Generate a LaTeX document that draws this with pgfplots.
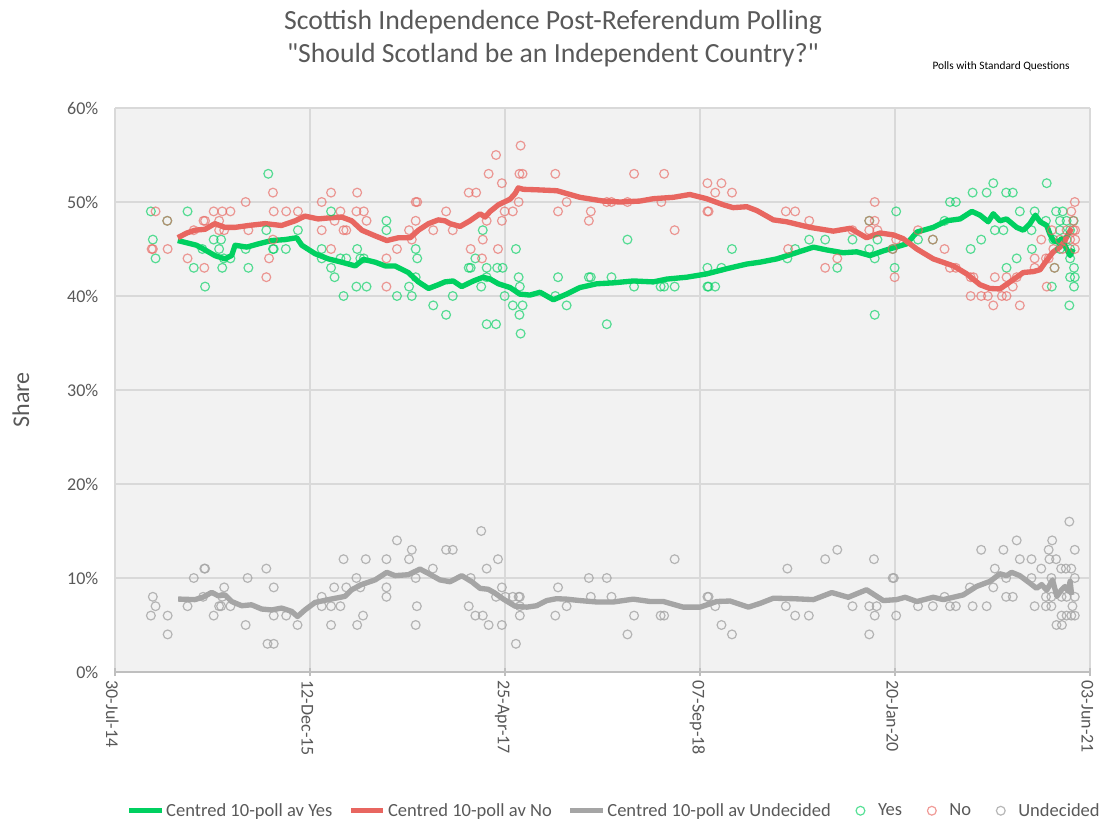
\documentclass[border=0pt]{standalone}
\usepackage{fontspec}
\setmainfont{Carlito}
\newfontfamily\plainfont{Carlito}
\usepackage{pgfplots}
\pgfplotsset{compat=1.18}
\definecolor{txt}{HTML}{595959}
\definecolor{yesc}{RGB}{0,208,96}
\definecolor{noc}{RGB}{232,102,96}
\definecolor{undc}{RGB}{165,165,165}
\definecolor{bgc}{HTML}{F2F2F2}
\definecolor{gridc}{HTML}{D9D9D9}
\definecolor{axc}{HTML}{BFBFBF}
\pgfplotsset{
  markleg/.style={legend image code/.code={\path[draw=none,fill=none] (0cm,0cm) (0.77cm,0cm); \draw[##1] plot coordinates {(0.36cm,0cm)};}},
}
\begin{document}
\begin{tikzpicture}
\path[use as bounding box] (0,0) rectangle (830.25pt,618.75pt);
\node[text=txt, font=\plainfont\fontsize{20.8}{24}\selectfont] at (414.75pt,602.25pt) {Scottish Independence Post-Referendum Polling};
\node[text=txt, font=\plainfont\fontsize{20.8}{24}\selectfont] at (414.75pt,577.5pt) {"Should Scotland be an Independent Country?"};
\node[text=black, font=\fontsize{8.5}{10}\selectfont] at (750.75pt,569.25pt) {Polls with Standard Questions};
\node[text=txt, rotate=90, font=\fontsize{18}{21}\selectfont] at (15.75pt,318.75pt) {Share};
\begin{axis}[
  at={(86.25pt,114.75pt)}, anchor=south west,
  width=731.25pt, height=423pt, scale only axis,
  xmin=0, xmax=2500, ymin=0, ymax=60,
  axis background/.style={fill=bgc},
  axis line style={draw=none},
  grid=major, major grid style={draw=gridc, line width=0.8pt},
  xtick={0,500,1000,1500,2000,2500},
  xticklabels={30-Jul-14,12-Dec-15,25-Apr-17,07-Sep-18,20-Jan-20,03-Jun-21},
  ytick={0,10,20,30,40,50,60},
  yticklabels={0\%,10\%,20\%,30\%,40\%,50\%,60\%},
  xtick pos=left, ytick style={draw=none},
  xtick style={draw=axc, line width=1.5pt},
  tick align=center, major tick length=6pt,
  xticklabel style={rotate=-90, anchor=west, font=\fontsize{13.5}{16}\selectfont, text=txt, yshift=-2pt},
  yticklabel style={font=\fontsize{13.5}{16}\selectfont, text=txt, xshift=-6pt},
  legend style={at={(0.512,-0.246)}, anchor=center, draw=none, fill=none,
    font=\fontsize{13.9}{16}\selectfont, text=txt, legend columns=-1,
    nodes={inner xsep=1.5pt, inner ysep=1pt},
    /tikz/every even column/.append style={column sep=10.5pt}},
  legend image code/.code={\draw[mark repeat=2,mark phase=2,#1] plot coordinates {(0cm,0cm) (0.42cm,0cm) (0.85cm,0cm)};},
  clip=false,
]
% centred averages
\addplot[yesc, line width=4pt, line join=round] coordinates {
(161,45.9)(180,45.7)(209,45.4)(231,44.9)(256,44.3)(282,43.95)(299,44.3)(308,45.4)(338,45.2)(368,45.55)(402,45.9)(436,46)(466,46.2)(479,45.4)(513,44.5)(547,43.95)(581,43.6)(616,43.2)(637,43.9)(667,43.6)(693,43.2)(718,43.2)(752,42.5)(778,41.5)(804,40.8)(829,41.2)(846,41.5)
(867,41.6)(889,41)(919,41.6)(944,42)(962,41.8)(983,41.3)(1013,40.9)(1038,40.2)(1064,40.1)(1090,40.4)(1124,39.6)(1158,40.2)(1192,40.9)(1235,41.3)(1278,41.4)(1329,41.6)(1380,41.5)(1415,41.8)(1466,42)(1517,42.35)(1568,42.9)(1620,43.4)(1654,43.6)
(1697,43.95)(1739,44.5)(1791,45.2)(1825,44.9)(1867,44.6)(1902,44.7)(1936,44.3)(1970,44.8)(1994,45.1)(2030,45.55)(2056,46.8)(2098,47.3)(2132,48)(2167,48.2)(2197,49)(2218,48.6)(2239,47.9)(2252,48.75)(2269,48)(2286,48.2)(2312,47.3)(2329,47)(2346,47.7)(2360,48.6)(2372,47.9)(2389,47.5)(2397,46.6)(2406,45.9)(2419,45.7)(2427,46.1)(2440,45)(2449,44.3)(2457,45)
};
\addlegendentry{Centred 10-poll av Yes}
\addplot[noc, line width=4pt, line join=round] coordinates {
(161,46.2)(184,46.7)(205,47)(231,47.1)(256,47.7)(282,47.3)(308,47.3)(342,47.5)(385,47.7)(427,47.5)(462,48)(487,48.5)(521,48.2)(547,48.3)(581,48.4)(607,48)(633,47)(667,46.4)(697,45.9)(727,46.2)(757,46.2)(778,47)(804,47.7)(829,48.1)(846,48)
(859,47.7)(885,47.4)(910,48)(936,48.75)(949,48.4)(962,49)(983,49.7)(1013,50.3)(1026,50.9)(1034,51.5)(1047,51.35)(1081,51.3)(1133,51.2)(1192,50.5)(1252,50.1)(1295,50)(1346,50.1)(1380,50.35)(1432,50.5)(1474,50.8)(1517,50.35)(1560,49.7)(1585,49.4)(1620,49.5)(1645,49.1)
(1654,48.9)(1688,48.1)(1722,47.9)(1782,47.3)(1842,46.9)(1885,47.2)(1927,46.2)(1962,46.7)(1996,46.5)(2021,46.1)(2056,45)(2098,43.95)(2150,43.2)(2184,42.35)(2218,41.2)(2243,40.8)(2269,40.75)(2295,41.5)(2329,42.5)(2355,42.6)(2372,42.8)(2389,43.8)(2406,44.7)(2423,45.2)(2436,45.9)(2444,46.6)(2453,47.2)
};
\addlegendentry{Centred 10-poll av No}
\addplot[undc, line width=4pt, line join=round] coordinates {
(162,7.76)(205,7.7)(226,7.97)(248,8.47)(265,8.1)(282,8.2)(299,7.5)(325,7.05)(350,7.15)(376,6.7)(402,6.6)(427,6.8)(453,6.45)(468,5.9)(487,6.6)(513,7.4)(547,7.7)(590,8.05)(607,8.75)(632,9.3)(667,9.8)(697,10.6)(718,10.25)(752,10.35)(782,10.95)(803,10.5)(833,9.8)
(859,9.6)(889,10.25)(915,9.6)(936,8.9)(957,8.8)(974,8.4)(996,7.75)(1026,7)(1056,6.9)(1081,7.05)(1107,7.6)(1132,7.8)(1158,7.75)(1192,7.6)(1235,7.45)(1278,7.45)(1329,7.75)(1372,7.5)(1406,7.5)(1457,6.9)(1500,6.9)(1543,7.5)(1577,7.55)(1624,6.9)(1654,7.3)
(1688,7.85)(1739,7.8)(1791,7.7)(1838,8.45)(1880,7.95)(1927,8.75)(1970,7.6)(2004,7.7)(2026,7.95)(2056,7.5)(2098,7.95)(2124,7.7)(2175,8.2)(2209,9.1)(2244,9.65)(2269,10.45)(2286,10.25)(2299,10.6)(2320,10.25)(2346,9.45)(2363,8.9)(2376,9.3)(2389,8.7)(2404,9.8)(2415,8.05)(2427,8.75)(2436,9.1)(2444,8.6)(2449,9.65)(2453,8.2)
};
\addlegendentry{Centred 10-poll av Undecided}
% poll points
\addplot[only marks, markleg, mark=o, mark size=3.3pt, mark options={draw=yesc, line width=0.9pt, draw opacity=0.65}] coordinates {
(92,49)(134,48)(186,49)(393,53)(554,49)(97,46)(104,44)(231,41)(202,43)(253,46)(272,46)(267,45)(224,45)(275,43)(279,44)(296,44)(342,43)(335,45)(388,47)(405,45)(407,45)(438,45)(469,47)(530,45)(530,44)(554,43)(563,42)(578,44)(593,44)(621,45)(629,44)(638,44)(619,41)(645,41)(696,48)(696,47)(723,40)(754,41)(761,40)(771,45)(775,44)(771,42)(816,39)(586,40)
(849,38)(866,40)(943,47)(924,44)(907,43)(912,43)(953,43)(980,43)(994,43)(939,41)(953,42)(953,37)(977,37)(999,40)(1020,39)(1028,45)(1035,42)(1038,41)(1045,39)(1037,38)(1040,36)(1129,40)(1136,42)(1158,39)(1215,42)(1220,42)(1273,42)(1314,46)(1261,37)(1331,41)(1399,41)(1408,41)(1435,41)(1519,43)(1555,43)(1519,41)(1522,41)(1539,41)(1582,45)
(1724,44)(1744,45)(1780,46)(1821,46)(1852,43)(1891,46)(1934,45)(1934,48)(1948,44)(1955,46)(1948,38)(1999,43)(2003,49)(1994,45)(2059,46)(2097,46)(2127,48)(2141,50)(2156,50)(2194,45)(2199,51)(2221,46)(2235,51)(2252,52)(2256,47)(2278,47)(2285,51)(2302,51)(2286,43)(2312,44)(2320,49)(2350,47)(2351,45)(2358,49)(2389,52)(2387,48)(2402,41)(2409,43)(2413,49)(2430,49)(2423,48)(2440,48)(2458,48)(2423,47)(2449,47)(2406,46)(2440,46)(2423,45)(2449,45)(2449,44)(2459,43)(2449,42)(2461,42)(2459,41)(2447,39)
};
\addlegendentry{Yes}
\addplot[only marks, markleg, mark=o, mark size=3.3pt, mark options={draw=noc, line width=0.9pt, draw opacity=0.65}] coordinates {
(104,49)(94,45)(97,45)(134,48)(135,45)(186,44)(229,43)(202,47)(227,48)(231,48)(253,49)(275,49)(296,49)(267,48)(267,47)(280,47)(335,50)(342,47)(405,51)(407,49)(439,49)(469,49)(405,46)(395,44)(388,42)(530,50)(554,51)(530,47)(563,48)(578,49)(586,47)(593,47)(621,51)(619,49)(638,49)(645,48)(554,45)(696,44)(696,41)(723,45)(771,50)(775,50)(771,48)(754,47)(816,47)(761,46)
(849,49)(866,47)(907,51)(926,51)(958,53)(977,55)(992,52)(1040,56)(1037,53)(1045,53)(1035,50)(999,49)(1020,49)(992,48)(953,48)(943,46)(941,44)(912,45)(982,45)(1129,53)(1136,49)(1158,50)(1215,48)(1220,49)(1261,50)(1273,50)(1314,50)(1331,53)(1408,53)(1401,50)(1435,47)(1519,52)(1555,52)(1539,51)(1582,51)(1519,49)(1522,49)
(1720,49)(1744,49)(1780,48)(1726,45)(1821,43)(1852,44)(1891,47)(1934,48)(1948,48)(1934,47)(1955,47)(1948,50)(1994,45)(2003,46)(1999,42)(2059,47)(2097,46)(2127,45)(2141,43)(2156,43)(2194,42)(2201,42)(2194,40)(2221,40)(2238,40)(2252,39)(2256,42)(2274,40)(2286,40)(2286,42)(2302,41)(2312,42)(2320,39)(2358,44)(2358,43)(2375,46)(2387,44)(2394,44)(2389,41)(2402,47)(2406,45)(2409,43)(2423,46)(2430,45)(2440,47)(2457,47)(2462,47)(2452,49)(2457,48)(2461,50)(2449,46)(2462,46)(2461,45)
};
\addlegendentry{No}
\addplot[only marks, markleg, mark=o, mark size=3.3pt, mark options={draw=undc, line width=0.9pt, draw opacity=0.8}] coordinates {
(97,8)(104,7)(92,6)(135,6)(135,4)(186,7)(202,10)(229,11)(231,11)(226,8)(253,6)(267,7)(272,7)(280,9)(275,8)(296,7)(335,5)(340,10)(388,11)(407,9)(407,6)(391,3)(407,3)(439,6)(468,5)(530,8)(530,7)(554,7)(554,5)(562,9)(578,7)(586,12)(593,9)(619,10)(621,5)(636,6)(629,9)(643,12)(696,12)(696,9)(696,8)(723,14)(754,12)(761,13)(771,10)(774,7)(771,5)(815,11)
(849,13)(866,13)(939,15)(912,10)(953,11)(982,12)(907,7)(924,6)(943,6)(958,5)(992,5)(992,9)(977,8)(1001,8)(1020,8)(1035,8)(1038,8)(1038,7)(1038,6)(1028,3)(1129,6)(1136,9)(1158,7)(1215,10)(1220,8)(1261,10)(1273,8)(1314,4)(1331,6)(1399,6)(1408,6)(1435,12)(1519,8)(1522,8)(1539,7)(1555,5)(1582,4)
(1724,11)(1720,7)(1744,6)(1779,6)(1821,12)(1852,13)(1891,7)(1934,7)(1953,7)(1948,6)(1934,4)(1946,12)(1994,10)(1997,10)(2003,6)(2059,7)(2097,7)(2127,8)(2141,7)(2156,7)(2192,9)(2199,7)(2221,13)(2235,7)(2256,11)(2252,9)(2278,13)(2285,10)(2285,8)(2302,8)(2312,14)(2320,12)(2350,12)(2350,10)(2358,7)(2375,11)(2394,13)(2403,14)(2396,12)(2413,12)(2401,10)(2387,8)(2401,8)(2387,7)(2401,7)(2414,5)(2428,5)(2427,8)(2440,8)(2427,6)(2440,6)(2452,6)(2461,6)(2426,11)(2438,11)(2452,11)(2447,16)(2461,13)(2461,10)(2455,7)(2461,8)
};
\addlegendentry{Undecided}
\draw[axc, line width=1.5pt] (axis cs:0,0) -- (axis cs:2500,0);
\end{axis}
\end{tikzpicture}
\end{document}
